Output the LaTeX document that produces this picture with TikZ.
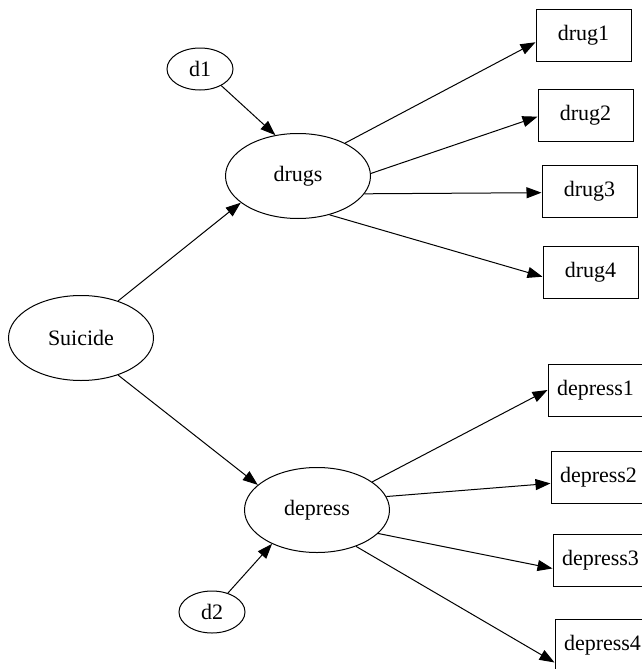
\documentclass[tikz,border=0pt]{standalone}
\usepackage{fontspec}
\setmainfont{Liberation Serif}
\usetikzlibrary{arrows.meta, shapes.geometric}
\tikzset{
  every picture/.style={line width=0.5pt},
  factor/.style={ellipse, draw, inner sep=0pt, minimum width=72.5pt, minimum height=42.5pt, font=\fontsize{11}{13}\selectfont},
  errterm/.style={ellipse, draw, inner sep=0pt, minimum width=33pt, minimum height=21pt, font=\fontsize{11}{13}\selectfont},
  item/.style={rectangle, draw, inner sep=0pt, minimum width=47.5pt, minimum height=26pt, font=\fontsize{11}{13}\selectfont},
  arrow/.style={-{Triangle[length=7.5pt, width=5.5pt]}},
}
\begin{document}
\begin{tikzpicture}[x=0.5pt, y=-0.5pt]
  \useasboundingbox (0,0) rectangle (642,669);
  \clip (0,0) rectangle (642,669);
  \node[factor] (suicide) at (81,338) {Suicide};
  \node[factor] (drugs) at (298,176) {drugs};
  \node[factor] (depress) at (317,510) {depress};
  \node[errterm] (d1) at (200,69) {d1};
  \node[errterm] (d2) at (212,612) {d2};
  \node[item] (drug1) at (583.5,35.5) {drug1};
  \node[item] (drug2) at (585.5,115) {drug2};
  \node[item] (drug3) at (589.5,191) {drug3};
  \node[item] (drug4) at (590.5,272.5) {drug4};
  \node[item] (depress1) at (595.5,390) {depress1};
  \node[item] (depress2) at (598.5,477.5) {depress2};
  \node[item] (depress3) at (600.5,560) {depress3};
  \node[item] (depress4) at (602.5,645) {depress4};
  \draw[arrow] (suicide.45) -- (drugs.205);
  \draw[arrow] (suicide.-45) -- (depress.157);
  \draw[arrow] (d1.-38) -- (drugs.119);
  \draw[arrow] (d2.50) -- (depress.217);
  \draw[arrow] (drugs.35) -- (drug1.188);
  \draw[arrow] (drugs.2) -- (drug2.182);
  \draw[arrow] (drugs.-15) -- (drug3.182);
  \draw[arrow] (drugs.-51) -- (drug4.185);
  \draw[arrow] (depress.27) -- (depress1.180);
  \draw[arrow] (depress.11) -- (depress2.187);
  \draw[arrow] (depress.-21) -- (depress3.190);
  \draw[arrow] (depress.-43) -- (depress4.200);
\end{tikzpicture}
\end{document}
